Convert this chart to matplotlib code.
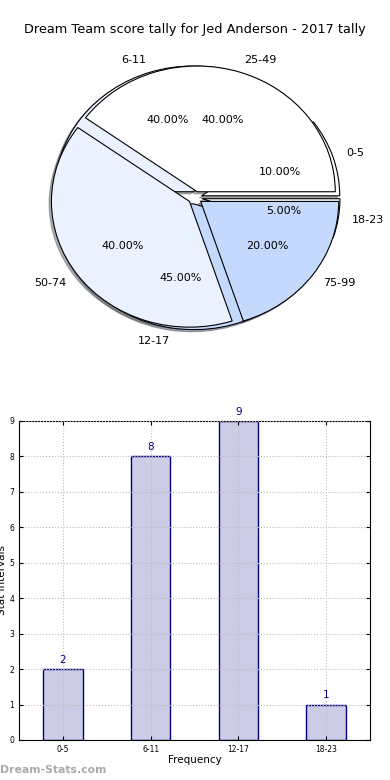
import matplotlib
matplotlib.use('Agg')
import matplotlib.pyplot as plt
import numpy as np

title = 'Dream Team score tally for Jed Anderson - 2017 tally'

# inner pie (frequency of stat intervals)
low_labels = ['0-5', '6-11', '12-17', '18-23']
low_counts = [2, 8, 9, 1]
# outer pie
high_labels = ['25-49', '50-74', '75-99']
high_counts = [8, 8, 4]

pie_colors = ['white', '#ebf2ff', '#c5d9fd']

fig = plt.figure(figsize=(3.9, 7.8), dpi=100)
fig.text(0.5, 0.962, title, ha='center', va='center', fontsize=9.3)

ax1 = fig.add_axes([0.0577, 0.545, 0.885, 0.403])
wp = {'edgecolor': 'black', 'linewidth': 0.8}
shad = {'ox': -0.012, 'oy': -0.012, 'shade': 0.6}
ax1.pie(low_counts, labels=low_labels, colors=[pie_colors[i % 3] for i in range(len(low_counts))],
        explode=[0.05] * len(low_counts), autopct='%1.2f%%', shadow=shad,
        wedgeprops=wp, textprops={'fontsize': 8})
ax1.pie(high_counts, labels=high_labels, colors=pie_colors,
        explode=[0.05] * len(high_counts), autopct='%1.2f%%', shadow=shad,
        wedgeprops=wp, textprops={'fontsize': 8})
ax1.set_aspect('auto')
ax1.set_xlim(-1.25, 1.25)
ax1.set_ylim(-1.25, 1.25)
ax1.axis('off')

ax2 = fig.add_axes([0.0487, 0.0513, 0.9, 0.409])
x = np.arange(len(low_labels))
ax2.bar(x, low_counts, width=0.45, color='#ccccE6', edgecolor='#000080', linewidth=1)
for xi, v in zip(x, low_counts):
    ax2.text(xi, v + 0.12, str(v), ha='center', va='bottom', fontsize=7.5, color='#000080')
ax2.set_xlim(-0.5, 3.5)
ax2.set_ylim(0, 9)
ax2.set_xticks(x)
ax2.set_xticklabels(low_labels)
ax2.set_yticks(range(10))
ax2.tick_params(direction='in', labelsize=5.5, top=True, right=True, length=3)
ax2.grid(True, linestyle=':', color='#bbbbbb', linewidth=0.8)
ax2.set_axisbelow(False)
ax2.set_xlabel('Frequency', fontsize=7.5, labelpad=1)
ax2.set_ylabel('Stat Intervals', fontsize=7.5, labelpad=1)
ax2.yaxis.set_label_coords(-0.035, 0.5)

fig.text(0.0, 0.013, 'Dream-Stats.com', fontsize=7.8, color='#aaaaaa', fontweight='bold', ha='left', va='center')

plt.savefig('out.png', dpi=100)
